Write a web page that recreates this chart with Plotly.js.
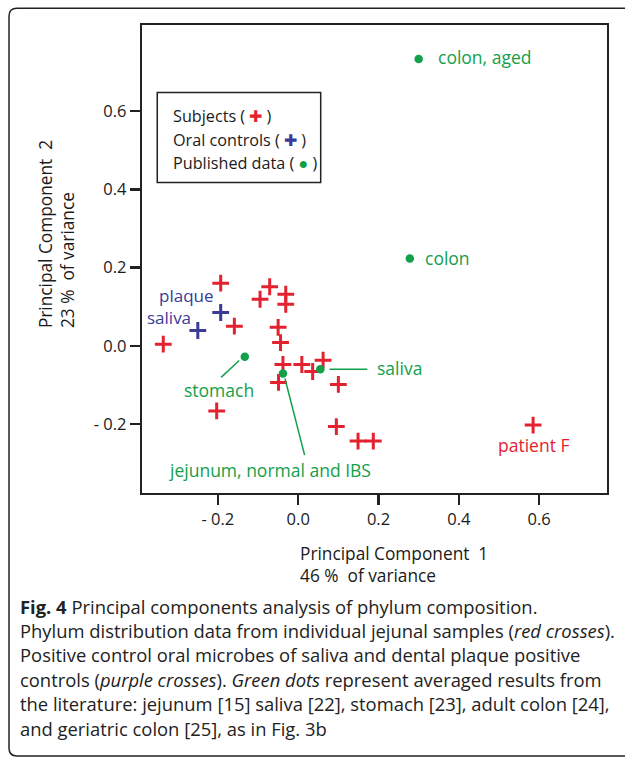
<!DOCTYPE html>
<html>
<head>
<meta charset="utf-8">
<script src="https://cdn.plot.ly/plotly-3.0.1.min.js"></script>
<style>
html,body{margin:0;padding:0;background:#fff;}
#chart{width:625px;height:759px;}
</style>
</head>
<body>
<div id="chart"></div>
<script>
// ---- data ----
var subjectsX = [-0.193,-0.071,-0.095,-0.031,-0.031,-0.159,-0.050,-0.044,-0.336,-0.038,0.009,0.062,0.036,-0.049,0.100,-0.203,0.095,0.149,0.187,0.585];
var subjectsY = [0.160,0.151,0.119,0.132,0.106,0.050,0.047,0.008,0.004,-0.048,-0.048,-0.037,-0.066,-0.094,-0.099,-0.167,-0.207,-0.244,-0.244,-0.203];
var oralX = [-0.193,-0.250];
var oralY = [0.085,0.039];
var oralNames = ["plaque","saliva"];
var publishedNames = ["colon, aged","colon","stomach","jejunum, normal and IBS","saliva"];
var publishedX = [0.300,0.278,-0.133,-0.038,0.055];
var publishedY = [0.734,0.223,-0.028,-0.071,-0.060];
var xTickVals = [-0.2,0,0.2,0.4,0.6];
var xTickText = ["- 0.2","0.0","0.2","0.4","0.6"];
var yTickVals = [-0.2,0,0.2,0.4,0.6];
var yTickText = ["- 0.2","0.0","0.2","0.4","0.6"];
var legendLabels = ["Subjects","Oral controls","Published data"];
var captionLines = [
  "<b>Fig. 4</b> Principal components analysis of phylum composition.",
  "Phylum distribution data from individual jejunal samples (<i>red crosses</i>).",
  "Positive control oral microbes of saliva and dental plaque positive",
  "controls (<i>purple crosses</i>). <i>Green dots</i> represent averaged results from",
  "the literature: jejunum [15] saliva [22], stomach [23], adult colon [24],",
  "and geriatric colon [25], as in Fig. 3b"
];

// ---- styles ----
var RED = '#e4222f', BLUE = '#3a3a97', GREEN = '#13a04a';
var FONT = 'Open Sans, sans-serif';
var LBL = 17.5;

var traces = [
  {x: subjectsX, y: subjectsY, type:'scatter', mode:'markers', name:'Subjects',
   marker:{symbol:'cross-thin', size:12, line:{width:3, color:RED}, color:RED}},
  {x: oralX, y: oralY, type:'scatter', mode:'markers', name:'Oral controls',
   marker:{symbol:'cross-thin', size:12, line:{width:3, color:BLUE}, color:BLUE}},
  {x: publishedX, y: publishedY, type:'scatter', mode:'markers', name:'Published data',
   marker:{symbol:'circle', size:8.5, color:GREEN}}
];

// label placements (styling only)
var pubLabelPos = [
  {dx:0.044, dy:0.004, xa:'left', ya:'middle'},
  {dx:0.034, dy:0.002, xa:'left', ya:'middle'},
  {dx:-0.065, dy:-0.085, xa:'center', ya:'middle'},
  {dx:-0.033, dy:-0.247, xa:'center', ya:'middle'},
  {dx:0.136, dy:0.004, xa:'left', ya:'middle'}
];
var oralLabelPos = [
  {dx:-0.012, dy:0.043},
  {dx:-0.013, dy:0.033}
];

var annotations = [];
publishedNames.forEach(function(n,i){
  var p = pubLabelPos[i];
  annotations.push({x:publishedX[i]+p.dx, y:publishedY[i]+p.dy, xref:'x', yref:'y', text:n,
    showarrow:false, xanchor:p.xa, yanchor:p.ya, font:{family:FONT, size:LBL, color:GREEN}});
});
oralNames.forEach(function(n,i){
  var p = oralLabelPos[i];
  annotations.push({x:oralX[i]+p.dx, y:oralY[i]+p.dy, xref:'x', yref:'y', text:n,
    showarrow:false, xanchor:'right', yanchor:'middle', font:{family:FONT, size:17, color:BLUE}});
});
// patient F label (last subject)
var pf = subjectsX.length-1;
annotations.push({x:subjectsX[pf]+0.001, y:subjectsY[pf]-0.05, xref:'x', yref:'y', text:'patient F',
  showarrow:false, xanchor:'center', yanchor:'middle', font:{family:FONT, size:LBL, color:RED}});

// legend box text
var legendSym = [
  "<span style='color:"+RED+"'>\u271A</span>",
  "<span style='color:"+BLUE+"'>\u271A</span>",
  "<span style='color:"+GREEN+"'>\u25CF</span>"
];
legendLabels.forEach(function(l,i){
  annotations.push({x:-0.318, y:0.587 - i*0.0597, xref:'x', yref:'y', text:l+" ( "+legendSym[i]+" )",
    showarrow:false, xanchor:'left', yanchor:'middle', font:{family:FONT, size:16.2, color:'#1a1a1a'}});
});

// axis titles
annotations.push({x:-0.185, y:0.348, xref:'paper', yref:'paper', textangle:-90, align:'left',
  text:'Principal Component  2<br>23 %  of variance', showarrow:false, xanchor:'center', yanchor:'bottom',
  font:{family:FONT, size:17.3, color:'#1a1a1a'}});
annotations.push({x:0.335, y:-0.100, xref:'paper', yref:'paper', align:'left',
  text:'Principal Component  1<br>46 %  of variance', showarrow:false, xanchor:'left', yanchor:'top',
  font:{family:FONT, size:17.3, color:'#1a1a1a'}});

// caption
captionLines.forEach(function(t,i){
  var py = 606 + i*24.4;
  annotations.push({x:(18-142)/465, y:(493-py)/468, xref:'paper', yref:'paper', text:t,
    showarrow:false, xanchor:'left', yanchor:'middle', font:{family:FONT, size:18.4, color:'#222'}});
});

var shapes = [
  // legend box
  {type:'rect', xref:'x', yref:'y', x0:-0.351, x1:0.056, y0:0.418, y1:0.648, line:{color:'#222', width:1.5}},
  // leader lines
  {type:'line', xref:'x', yref:'y', x0:-0.192, y0:-0.081, x1:-0.147, y1:-0.038, line:{color:GREEN, width:1.5}},
  {type:'line', xref:'x', yref:'y', x0:0.078, y0:-0.060, x1:0.172, y1:-0.060, line:{color:GREEN, width:1.5}},
  {type:'line', xref:'x', yref:'y', x0:-0.033, y0:-0.084, x1:0.016, y1:-0.280, line:{color:GREEN, width:1.5}},
  // outer rounded frame
  {type:'path', xref:'paper', yref:'paper',
   path:'M 1.06,1.036 L -0.269,1.036 Q -0.286,1.036 -0.286,1.019 L -0.286,-0.545 Q -0.286,-0.562 -0.269,-0.562 L 1.06,-0.562',
   line:{color:'#222', width:1.5}}
];

var axisCommon = {showgrid:false, zeroline:false, showline:true, mirror:true, linecolor:'#222', linewidth:2.2,
  ticks:'outside', ticklen:10, tickwidth:2.2, tickcolor:'#222', tickfont:{family:FONT, size:16.5, color:'#1a1a1a'}};

var layout = {
  width:625, height:759,
  margin:{l:142, r:18, t:25, b:266},
  paper_bgcolor:'#fff', plot_bgcolor:'#fff',
  showlegend:false,
  xaxis:Object.assign({}, axisCommon, {range:[-0.389,0.769], tickvals:xTickVals, ticktext:xTickText}),
  yaxis:Object.assign({}, axisCommon, {range:[-0.377,0.821], tickvals:yTickVals, ticktext:yTickText}),
  annotations:annotations,
  shapes:shapes
};

Plotly.newPlot('chart', traces, layout, {staticPlot:true, displayModeBar:false});
</script>
</body>
</html>
